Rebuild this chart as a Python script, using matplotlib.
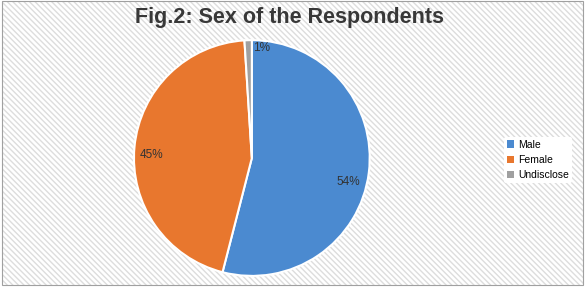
import matplotlib
matplotlib.use("Agg")
import matplotlib.pyplot as plt
import numpy as np
from matplotlib.patches import Rectangle

labels = ["Male", "Female", "Undisclose"]
values = [54, 45, 1]
colors = ["#4b8ad0", "#e8772e", "#a0a0a0"]
title = "Fig.2: Sex of the Respondents"

# label placement tweaks (angle offset in degrees, radius fraction)
label_shift = [(-7, 0.84), (3.5, 0.85), (-7, 0.94)]

plt.rcParams['font.family'] = ['Liberation Sans', 'DejaVu Sans']
plt.rcParams['hatch.color'] = "#dddddd"
fig = plt.figure(figsize=(5.85, 2.94), dpi=100)
fig.patch.set_facecolor("white")
bg = Rectangle((0.003, 0.03), 0.994, 0.965, transform=fig.transFigure,
               facecolor="none", edgecolor="#dddddd", hatch="\\\\\\\\\\\\", linewidth=0, zorder=-10)
fig.patches.append(bg)
border = Rectangle((0.003, 0.03), 0.994, 0.965, transform=fig.transFigure,
                   facecolor="none", edgecolor="#a0a0a0", linewidth=0.8, zorder=-5)
fig.patches.append(border)

ax = fig.add_axes([0.229, 0.061, 0.403, 0.803])
ax.patch.set_visible(False)
wedges, texts, autotexts = ax.pie(values, colors=colors, startangle=90, counterclock=False,
                                  autopct=lambda p: f"{p:.0f}%", pctdistance=0.85,
                                  wedgeprops=dict(edgecolor="white", linewidth=1.5),
                                  textprops=dict(fontsize=8.5, color="#333333"))
for w, t, (dang, r) in zip(wedges, autotexts, label_shift):
    ang = np.deg2rad((w.theta1 + w.theta2) / 2 + dang)
    t.set_position((r * np.cos(ang), r * np.sin(ang)))
ax.set_xlim(-1.0, 1.0)
ax.set_ylim(-1.0, 1.0)
ax.set_aspect("equal")

fig.text(0.495, 0.94, title, ha="center", va="center", fontsize=15.5, fontweight="bold", color="#383838")

leg = fig.legend(wedges, labels, loc="center left", bbox_to_anchor=(0.852, 0.456), frameon=True,
                 fontsize=7.5, handlelength=0.7, handleheight=0.7, handletextpad=0.4,
                 labelspacing=0.5, borderpad=0.3, edgecolor="none", facecolor="white", framealpha=1)
for h in leg.legend_handles:
    h.set_edgecolor("none")

fig.savefig("out.png", dpi=100)
